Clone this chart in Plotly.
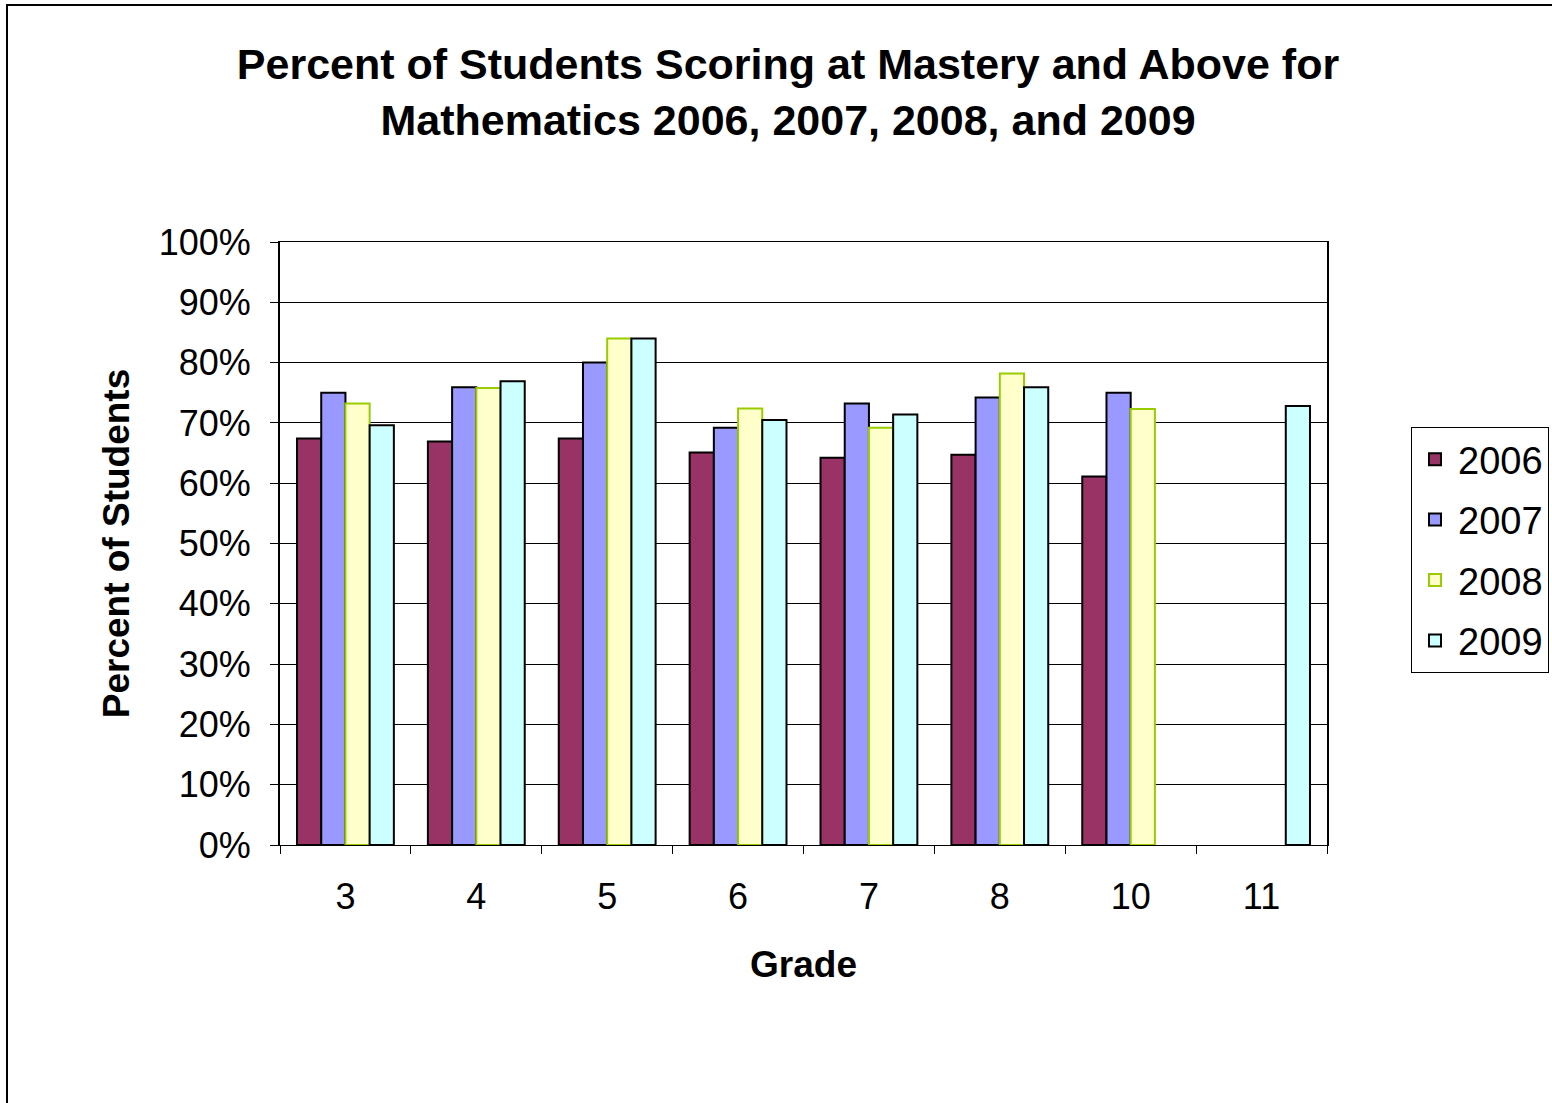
import plotly.graph_objects as go

grades = ["3", "4", "5", "6", "7", "8", "10", "11"]
y2006 = [67.4, 66.9, 67.4, 65.1, 64.2, 64.7, 61.1, None]
y2007 = [75.0, 75.9, 80.0, 69.2, 73.2, 74.2, 75.0, None]
y2008 = [73.2, 75.8, 84.0, 72.4, 69.2, 78.2, 72.3, None]
y2009 = [69.6, 76.9, 84.0, 70.5, 71.4, 75.9, None, 72.8]

series = [
    ("2006", y2006, "#993366", "#000000"),
    ("2007", y2007, "#9999FF", "#000000"),
    ("2008", y2008, "#FFFFCC", "#99CC00"),
    ("2009", y2009, "#CCFFFF", "#000000"),
]

FONT = "Liberation Sans, Arial, sans-serif"

fig = go.Figure()
for name, vals, fill, line in series:
    fig.add_trace(go.Bar(
        name=name, x=grades, y=[None if v is None else v / 100 for v in vals],
        marker=dict(color=fill, line=dict(color=line, width=2)),
        legendgroup=name,
    ))

fig.update_layout(
    width=1552, height=1103,
    margin=dict(l=280, r=225, t=242, b=258, autoexpand=False),
    paper_bgcolor="white", plot_bgcolor="white",
    barmode="group", bargap=0.26, bargroupgap=0,
    font=dict(family=FONT, color="black", size=36),
    title=dict(
        text="<b>Percent of Students Scoring at Mastery and Above for<br>Mathematics 2006, 2007, 2008, and 2009</b>",
        x=788 / 1552, xanchor="center", y=1 - 79 / 1103, yanchor="top",
        font=dict(size=43, family=FONT, color="black"),
    ),
    showlegend=True,
    legend=dict(
        x=(1411 - 280) / 1047, xanchor="left", y=(845 - 427) / 603, yanchor="top",
        bordercolor="black", borderwidth=1, bgcolor="white",
        font=dict(size=38, family=FONT), tracegroupgap=8, itemwidth=36,
    ),
    xaxis=dict(
        type="category", tickson="boundaries", ticks="outside", ticklen=8,
        tickcolor="black", showline=True, linecolor="black", linewidth=1, mirror=True,
        showgrid=False, ticklabelstandoff=20,
        title=dict(text="<b>Grade</b>", font=dict(size=37), standoff=34),
    ),
    yaxis=dict(
        range=[0, 1], tickformat=".0%", dtick=0.1, ticks="outside", ticklen=8,
        tickcolor="black", showline=True, linecolor="black", linewidth=2, mirror=True,
        showgrid=True, gridcolor="black", gridwidth=1, ticklabelstandoff=12,
        zeroline=False,
        title=dict(text="<b>Percent of Students</b>", font=dict(size=37), standoff=18),
    ),
    shapes=[dict(
        type="rect", xref="paper", yref="paper",
        x0=(7 - 280) / 1047, x1=(1600 - 280) / 1047,
        y0=(845 - 1150) / 603, y1=(845 - 5) / 603,
        line=dict(color="black", width=2), fillcolor="rgba(0,0,0,0)", layer="below",
    )],
)

fig.write_html("out.html")
